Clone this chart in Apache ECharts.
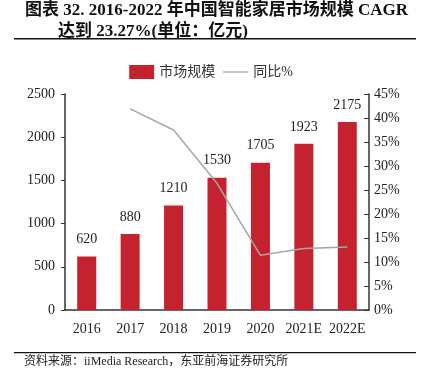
<!DOCTYPE html>
<html><head><meta charset="utf-8">
<script src="https://cdn.jsdelivr.net/npm/echarts@6/dist/echarts.min.js"></script>
<style>html,body{margin:0;padding:0;background:#fff}#c{width:422px;height:374px}</style>
</head><body><div id="c"></div>
<script>
const categories = ['2016','2017','2018','2019','2020','2021E','2022E'];
const marketSize = [620, 880, 1210, 1530, 1705, 1923, 2175];
const yoyPct = [null, 41.9, 37.5, 26.4, 11.4, 12.8, 13.1];

const serif = '"Liberation Serif","Times New Roman","Noto Sans CJK SC",serif';
const titleFont = 'bold 17px "Liberation Serif","Noto Sans CJK SC",serif';
const chart = echarts.init(document.getElementById('c'));
chart.setOption({
  animation: false,
  backgroundColor: '#fff',
  grid: { left: 65, right: 53, top: 94, bottom: 64 },
  legend: {
    top: 60, left: 'center',
    itemGap: 8,
    textStyle: { fontFamily: serif, fontSize: 14, color: '#333' },
    data: [
      { name: '市场规模', icon: 'rect', itemWidth: 33, itemHeight: 11 },
      { name: '同比%', icon: 'path://M0,0L30,0L30,1.5L0,1.5Z', itemWidth: 30, itemHeight: 2 }
    ]
  },
  xAxis: {
    type: 'category', data: categories,
    axisLine: { lineStyle: { color: '#333', width: 1.5 } },
    axisTick: { show: false },
    axisLabel: { interval: 0, fontFamily: serif, fontSize: 14, color: '#222', margin: 12 }
  },
  yAxis: [
    { type: 'value', min: 0, max: 2500, interval: 500,
      axisLine: { show: true, lineStyle: { color: '#333', width: 1.5 } },
      axisTick: { show: true, length: 4, lineStyle: { color: '#333' } },
      splitLine: { show: false },
      axisLabel: { fontFamily: serif, fontSize: 14, color: '#222', margin: 10, formatter: v => String(v) } },
    { type: 'value', min: 0, max: 45, interval: 5, position: 'right',
      axisLine: { show: true, lineStyle: { color: '#333', width: 1.5 } },
      axisTick: { show: true, inside: true, length: 5, lineStyle: { color: '#333' } },
      splitLine: { show: false },
      axisLabel: { fontFamily: serif, fontSize: 14, color: '#222', margin: 5, formatter: '{value}%' } }
  ],
  series: [
    { name: '市场规模', type: 'bar', data: marketSize, barWidth: 19,
      itemStyle: { color: '#C3222E' },
      label: { show: true, position: 'top', distance: 10, fontFamily: serif, fontSize: 14, color: '#222' } },
    { name: '同比%', type: 'line', yAxisIndex: 1, data: yoyPct, symbol: 'none',
      lineStyle: { color: '#A6A6A6', width: 1.5 }, itemStyle: { color: '#A6A6A6' } }
  ],
  graphic: [
    { type: 'text', left: 25, top: 2, style: { text: '图表 32. 2016-2022 年中国智能家居市场规模 CAGR', font: titleFont, fill: '#111' } },
    { type: 'text', left: 58, top: 23, style: { text: '达到 23.27%(单位：亿元)', font: titleFont, fill: '#111' } },
    { type: 'rect', shape: { x: 14, y: 38, width: 402, height: 1.5 }, style: { fill: '#111' } },
    { type: 'rect', shape: { x: 14, y: 352, width: 402, height: 1.2 }, style: { fill: '#111' } },
    { type: 'text', left: 24, top: 356, style: { text: '资料来源：iiMedia Research，东亚前海证券研究所', font: '12px "Liberation Serif","Noto Sans CJK SC",serif', fill: '#222' } }
  ]
});
</script></body></html>
